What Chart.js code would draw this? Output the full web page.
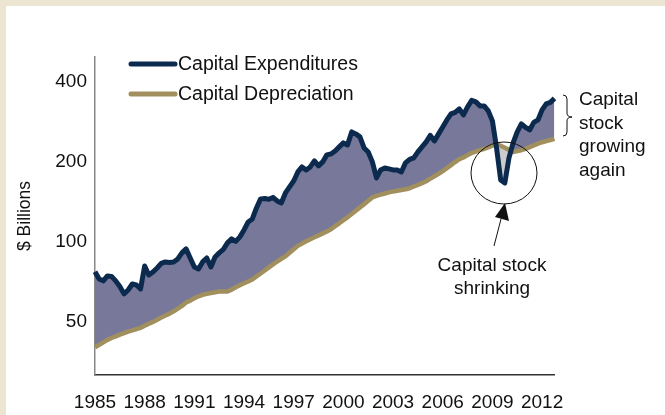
<!DOCTYPE html>
<html>
<head>
<meta charset="utf-8">
<script src="https://cdn.jsdelivr.net/npm/chart.js@4"></script>
<style>
  html, body { margin: 0; padding: 0; background: #ece5d2; }
  #wrap { width: 665px; height: 415px; position: relative; }
</style>
</head>
<body>
<div id="wrap"><canvas id="capexChart" width="665" height="415"></canvas></div>
<script>
const startYear = 1985;
const endYear = 2012;
const tickYears = [1985, 1988, 1991, 1994, 1997, 2000, 2003, 2006, 2009, 2012];
const yTicks = [50, 100, 200, 400];

// quarterly, 1985 Q1 .. 2012 Q4 ($ billions)
const capitalExpenditures = [
  77.1, 72.4, 71.2, 74.3, 74.0, 71.2, 67.8, 63.6, 65.8, 69.3, 68.7, 66.4,
  81.0, 74.9, 76.9, 79.6, 82.8, 83.9, 83.5, 83.9, 86.1, 90.7, 93.9, 86.8,
  80.3, 78.9, 83.9, 86.8, 80.3, 87.6, 90.7, 93.5, 98.9, 102.4, 100.2, 104.2,
  110.7, 118.6, 121.7, 133.9, 144.8, 145.2, 144.3, 146.7, 142.3, 139.8, 152.5, 160.6,
  169.2, 182.9, 191.0, 186.1, 191.0, 201.2, 192.7, 199.5, 212.0, 213.8, 219.4, 227.2,
  235.2, 231.1, 258.7, 254.3, 247.8, 225.2, 217.5, 199.5, 173.6, 186.1, 189.4, 187.7,
  186.1, 186.1, 182.9, 197.8, 203.8, 206.5, 217.5, 227.2, 237.3, 251.0, 239.3, 254.3,
  270.1, 287.0, 302.3, 306.3, 315.8, 299.8, 321.3, 339.9, 335.5, 324.1, 324.1, 310.3,
  284.6, 225.2, 170.7, 166.3, 206.5, 235.2, 258.7, 277.3, 269.0, 263.2, 280.9, 287.0,
  313.0, 329.7, 334.0, 345.8
];
const capitalDepreciation = [
  40.0, 40.9, 41.8, 42.7, 43.4, 44.0, 44.7, 45.3, 45.9, 46.4, 46.9, 47.4,
  48.3, 49.1, 49.9, 50.8, 51.8, 52.7, 53.6, 54.7, 56.0, 57.3, 59.0, 60.0,
  61.2, 62.3, 63.1, 63.6, 64.1, 64.5, 64.9, 64.9, 64.9, 66.0, 67.4, 68.6,
  69.7, 70.8, 72.0, 74.0, 75.9, 77.9, 80.0, 82.1, 84.2, 86.2, 88.0, 90.8,
  93.6, 96.4, 98.3, 100.3, 102.1, 103.9, 105.6, 107.4, 109.2, 111.3, 114.3, 117.2,
  120.4, 123.4, 127.0, 130.7, 134.5, 138.4, 142.5, 146.7, 148.6, 150.2, 151.7, 153.2,
  154.5, 155.4, 156.4, 157.3, 158.8, 161.2, 163.6, 166.0, 168.8, 172.5, 176.2, 180.1,
  184.2, 189.0, 194.0, 199.3, 204.2, 207.4, 211.6, 215.6, 218.3, 220.8, 223.5, 226.2,
  229.5, 232.8, 229.5, 225.4, 221.4, 217.5, 219.2, 220.8, 223.3, 226.8, 230.1, 233.8,
  236.6, 238.9, 241.2, 243.5
];

const quarters = [];
for (let y = startYear; y <= endYear; y++) {
  for (let q = 1; q <= 4; q++) quarters.push(y + ' Q' + q);
}

const FONT = 'Arial, "Liberation Sans", sans-serif';
const NAVY = '#0c2a4e';
const TAN = '#a18f5e';

// beige frame + white panel
const framePlugin = {
  id: 'frame',
  beforeDraw(chart) {
    const ctx = chart.ctx;
    ctx.save();
    ctx.fillStyle = '#ece5d2';
    ctx.fillRect(0, 0, chart.width, chart.height);
    ctx.fillStyle = '#ffffff';
    ctx.fillRect(6, 6, chart.width - 6, chart.height - 6);
    ctx.restore();
  }
};

// legend + annotations
const notesPlugin = {
  id: 'notes',
  afterDraw(chart) {
    const ctx = chart.ctx;
    ctx.save();
    ctx.textBaseline = 'middle';
    ctx.lineCap = 'round';

    ctx.font = '19.5px ' + FONT;
    chart.data.datasets.forEach((ds, i) => {
      const y = 64 + i * 30;
      ctx.strokeStyle = ds.borderColor;
      ctx.lineWidth = 5;
      ctx.beginPath();
      ctx.moveTo(131, y);
      ctx.lineTo(175, y);
      ctx.stroke();
      ctx.fillStyle = '#111';
      ctx.textAlign = 'left';
      ctx.fillText(ds.label, 178, y + 1);
    });

    // brace
    ctx.strokeStyle = '#111';
    ctx.lineWidth = 1;
    ctx.lineCap = 'butt';
    ctx.beginPath();
    ctx.moveTo(563, 95);
    ctx.quadraticCurveTo(567, 95, 567, 99);
    ctx.lineTo(567, 113);
    ctx.quadraticCurveTo(567, 117, 572, 117);
    ctx.quadraticCurveTo(567, 117, 567, 121);
    ctx.lineTo(567, 132);
    ctx.quadraticCurveTo(567, 136, 563, 136);
    ctx.stroke();

    ctx.font = '19px ' + FONT;
    ctx.fillStyle = '#111';
    ctx.textAlign = 'left';
    ['Capital', 'stock', 'growing', 'again'].forEach((t, i) => {
      ctx.fillText(t, 579, 100 + i * 23.5);
    });

    // circle round the dip
    ctx.beginPath();
    ctx.ellipse(504, 173, 33, 31, 0, 0, Math.PI * 2);
    ctx.stroke();

    // arrow
    ctx.beginPath();
    ctx.moveTo(494, 246);
    ctx.lineTo(501, 219);
    ctx.stroke();
    ctx.beginPath();
    ctx.moveTo(505, 203);
    ctx.lineTo(509, 221);
    ctx.lineTo(495, 217);
    ctx.closePath();
    ctx.fill();

    ctx.textAlign = 'center';
    ctx.fillText('Capital stock', 492, 266);
    ctx.fillText('shrinking', 492, 289);
    ctx.restore();
  }
};

const ctx = document.getElementById('capexChart').getContext('2d');
new Chart(ctx, {
  type: 'line',
  data: {
    labels: quarters,
    datasets: [
      {
        label: 'Capital Expenditures',
        data: capitalExpenditures,
        borderColor: NAVY,
        borderWidth: 5,
        pointRadius: 0,
        tension: 0,
        borderJoinStyle: 'round',
        fill: { target: 1, above: '#77789a', below: '#cccccc' }
      },
      {
        label: 'Capital Depreciation',
        data: capitalDepreciation,
        borderColor: TAN,
        borderWidth: 4.5,
        pointRadius: 0,
        tension: 0,
        borderJoinStyle: 'round',
        fill: false
      }
    ]
  },
  options: {
    responsive: false,
    animation: false,
    layout: { padding: { left: 0, top: 57, right: 110.5, bottom: 0 } },
    plugins: {
      legend: { display: false },
      tooltip: { enabled: false },
      filler: { drawTime: 'beforeDatasetsDraw' }
    },
    scales: {
      x: {
        type: 'category',
        offset: false,
        grid: { display: false, drawTicks: false, tickLength: 0 },
        border: { display: true, color: '#333', width: 1.5 },
        ticks: {
          autoSkip: false,
          maxRotation: 0,
          padding: 16,
          color: '#111',
          font: { family: FONT, size: 19 },
          callback: (val, idx) => {
            const lab = quarters[idx];
            const yr = parseInt(lab, 10);
            return lab.endsWith('Q1') && tickYears.includes(yr) ? String(yr) : null;
          }
        },
        afterFit: (scale) => { scale.height = 40; }
      },
      y: {
        type: 'logarithmic',
        min: 31.5,
        max: 495,
        grid: { display: false, drawTicks: false, tickLength: 0 },
        border: { display: true, color: '#888', width: 1.5 },
        afterBuildTicks: (scale) => { scale.ticks = yTicks.map(v => ({ value: v })); },
        ticks: {
          padding: 8,
          color: '#111',
          font: { family: FONT, size: 19 },
          callback: (v) => String(v)
        },
        title: {
          display: true,
          text: '$ Billions',
          color: '#111',
          font: { family: FONT, size: 17.5 },
          padding: { top: 15, bottom: 0 }
        },
        afterFit: (scale) => { scale.width = 95; }
      }
    }
  },
  plugins: [framePlugin, notesPlugin]
});
</script>
</body>
</html>
